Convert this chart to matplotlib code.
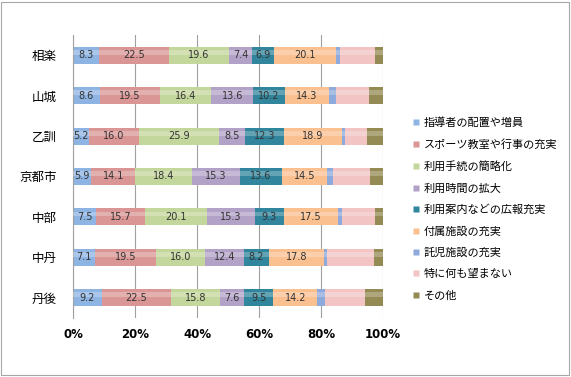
import numpy as np
import matplotlib.pyplot as plt
from matplotlib.lines import Line2D
from matplotlib.patches import Rectangle

plt.rcParams['font.family'] = ['Noto Sans CJK JP', 'DejaVu Sans']

# ---------------- データ / data ----------------
areas = ['相楽', '山城', '乙訓', '京都市', '中部', '中丹', '丹後']
series_names = ['指導者の配置や増員', 'スポーツ教室や行事の充実', '利用手続の簡略化',
                '利用時間の拡大', '利用案内などの広報充実', '付属施設の充実',
                '託児施設の充実', '特に何も望まない', 'その他']

shidousha = [8.3, 8.6, 5.2, 5.9, 7.5, 7.1, 9.2]
sports    = [22.5, 19.5, 16.0, 14.1, 15.7, 19.5, 22.5]
tetsuzuki = [19.6, 16.4, 25.9, 18.4, 20.1, 16.0, 15.8]
jikan     = [7.4, 13.6, 8.5, 15.3, 15.3, 12.4, 7.6]
annai     = [6.9, 10.2, 12.3, 13.6, 9.3, 8.2, 9.5]
fuzoku    = [20.1, 14.3, 18.9, 14.5, 17.5, 17.8, 14.2]
takuji    = [1.4, 2.3, 0.9, 2.1, 1.4, 0.9, 2.6]
tokuni    = [11.3, 10.5, 7.2, 12.0, 10.5, 15.0, 12.7]
sonota    = [2.5, 4.6, 5.1, 4.1, 2.7, 3.1, 5.9]

all_series = [shidousha, sports, tetsuzuki, jikan, annai, fuzoku, takuji, tokuni, sonota]
colors = ['#8EB4E3', '#D99694', '#C3D69B', '#B3A2C7', '#31859C',
          '#FAC090', '#8EA9DB', '#F2C4C4', '#948A54']
labeled = 6  # 最初の6系列だけ数値ラベル / only first 6 series have value labels

# ---------------- 描画 / draw ----------------
fig = plt.figure(figsize=(5.71, 3.77), dpi=100)
ax = fig.add_axes([0.128, 0.157, 0.543, 0.75])

y = np.arange(len(areas))
totals = np.array([sum(s[k] for s in all_series) for k in range(len(areas))])
left = np.zeros(len(areas))
for i, (vals, c) in enumerate(zip(all_series, colors)):
    vals = np.array(vals)
    pct = vals / totals * 100
    ax.barh(y, pct, left=left, height=0.42, color=c, edgecolor='none', zorder=2)
    # 円柱っぽいハイライト / cylinder-ish highlight
    ax.barh(y - 0.07, pct, left=left, height=0.12, color='white', alpha=0.25,
            edgecolor='none', zorder=3)
    if i < labeled:
        for k in range(len(areas)):
            ax.text(left[k] + pct[k] / 2, y[k], f'{vals[k]:.1f}', ha='center', va='center',
                    fontsize=7, color='#333333', family='DejaVu Sans', zorder=4)
    left += pct

ax.set_xlim(0, 100)
ax.set_ylim(6.5, -0.5)
ax.set_xticks(np.arange(0, 101, 20))
ax.set_xticklabels([f'{t}%' for t in range(0, 101, 20)], fontsize=8.5,
                   fontweight='bold', family='DejaVu Sans')
ax.set_yticks(y)
ax.set_yticklabels(areas, fontsize=9)
ax.tick_params(axis='y', length=0, pad=12)
ax.tick_params(axis='x', length=0, pad=7)
ax.grid(axis='x', color='#A0A0A0', linewidth=0.8, zorder=0)
for s in ['top', 'right', 'bottom']:
    ax.spines[s].set_visible(False)
ax.spines['left'].set_color('#A0A0A0')

handles = [Line2D([], [], marker='s', linestyle='none', markersize=4,
                  markerfacecolor=c, markeredgecolor='none') for c in colors]
fig.legend(handles, series_names, loc='upper left', bbox_to_anchor=(0.715, 0.70),
           frameon=False, fontsize=8, handlelength=0.6, handletextpad=0.4,
           labelspacing=1.0, borderaxespad=0)

# 外枠 / outer border
fig.patches.append(Rectangle((0.002, 0.004), 0.994, 0.992, transform=fig.transFigure,
                             fill=False, edgecolor='#A6A6A6', linewidth=0.8))

fig.savefig('out.png', dpi=100)
